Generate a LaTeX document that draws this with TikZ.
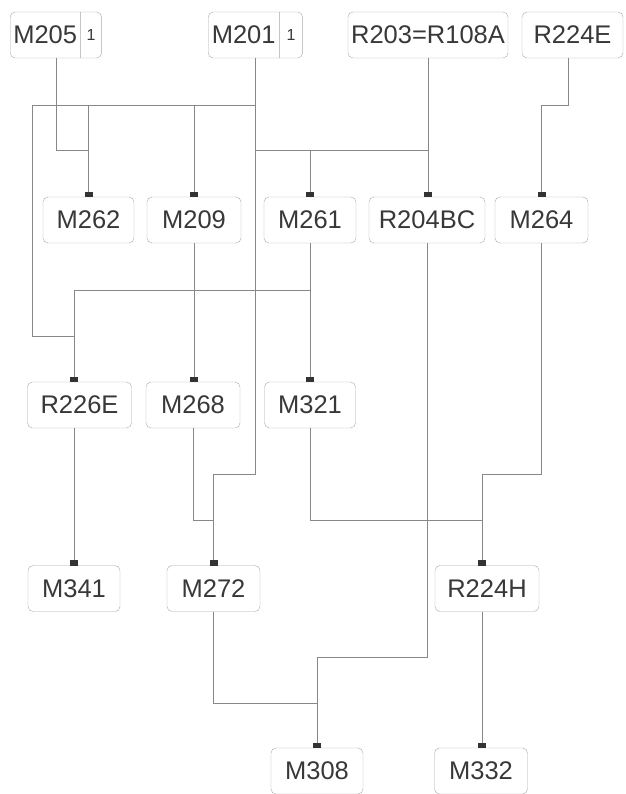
\documentclass[tikz,border=0pt]{standalone}
\usepackage{fontspec}
\setmainfont{Liberation Sans}
\usetikzlibrary{arrows.meta,shapes.multipart}
\definecolor{boxgray}{HTML}{A8A8A8}
\definecolor{linegray}{HTML}{888888}
\definecolor{textgray}{HTML}{383838}
\definecolor{markgray}{HTML}{333333}
\tikzset{
  gene/.style={draw=boxgray,rounded corners=5pt,minimum height=46pt,inner sep=0pt,
    text=textgray,font=\fontsize{25.5}{26}\selectfont},
  splitgene/.style={gene,rectangle split,rectangle split horizontal,
    rectangle split parts=2,inner xsep=0pt},
  link/.style={draw=linegray,line width=0.7pt,
    -{Square[length=5pt,width=8pt,color=markgray]}},
}
\newcommand{\smallone}{\fontsize{16}{16}\selectfont 1}
\begin{document}
\begin{tikzpicture}[x=1pt,y=-1pt]
\useasboundingbox (0,0) rectangle (625,794);

\node[splitgene,anchor=west] (M205) at (10,35) {\makebox[70pt]{M205}\nodepart{two}\makebox[21pt]{\smallone}};
\node[splitgene,anchor=west] (M201) at (208,35) {\makebox[71pt]{M201}\nodepart{two}\makebox[23pt]{\smallone}};
\node[gene,minimum width=160pt] (R203) at (428,35) {R203=R108A};
\node[gene,minimum width=101pt] (R224E) at (572.5,35) {R224E};

\node[gene,minimum width=91pt] (M262) at (88.5,220) {M262};
\node[gene,minimum width=94pt] (M209) at (194,220) {M209};
\node[gene,minimum width=92pt] (M261) at (310,220) {M261};
\node[gene,minimum width=116pt] (R204BC) at (427,220) {R204BC};
\node[gene,minimum width=93pt] (M264) at (541.5,220) {M264};

\node[gene,minimum width=104pt] (R226E) at (79.5,405) {R226E};
\node[gene,minimum width=94pt] (M268) at (193,405) {M268};
\node[gene,minimum width=91pt] (M321) at (310,405) {M321};

\node[gene,minimum width=92pt] (M341) at (74,588.5) {M341};
\node[gene,minimum width=93pt] (M272) at (213.5,588.5) {M272};
\node[gene,minimum width=104pt] (R224H) at (487,588.5) {R224H};

\node[gene,minimum width=92pt] (M308) at (317,771) {M308};
\node[gene,minimum width=93pt] (M332) at (481,771) {M332};

\coordinate (top1) at (0,105);
\coordinate (top2) at (0,150);
\coordinate (mid1) at (0,290);
\coordinate (mid2) at (0,336);
\coordinate (low1) at (0,474);
\coordinate (low2) at (0,520);
\coordinate (bot1) at (0,657);
\coordinate (bot2) at (0,703);
\coordinate (left) at (32,0);
\coordinate (R224Eout) at ([xshift=-4.5pt]R224E.south);
\coordinate (R226Ein) at ([xshift=-5.5pt]R226E.north);
\coordinate (R226Eout) at ([xshift=-5.5pt]R226E.south);
\coordinate (R224Hin) at ([xshift=-5pt]R224H.north);
\coordinate (R224Hout) at ([xshift=-5pt]R224H.south);

\draw[link] (M205.south) -- (M205.south |- top2) -| (M262.north);
\draw[link] (M201.south) -- (M201.south |- top1) -| (M262.north);
\draw[link] (M201.south) -- (M201.south |- top1) -| (M209.north);
\draw[link] (M201.south) -- (M201.south |- top1) -- (top1 -| left) -- (mid2 -| left) -| (R226Ein);
\draw[link] (M201.south) -- (M201.south |- top2) -| (M261.north);
\draw[link] (M201.south) -- (M201.south |- low1) -| (M272.north);
\draw[link] (R203.south) -- (R203.south |- top2) -| (M261.north);
\draw[link] (R203.south) -- (R203.south |- R204BC.north);
\draw[link] (R224Eout) -- (R224Eout |- top1) -| (M264.north);

\draw[link] (M209.south) -- (M209.south |- M268.north);
\draw[link] (M261.south) -- (M261.south |- mid1) -| (R226Ein);
\draw[link] (M261.south) -- (M321.north);
\draw[link] (R204BC.south) -- (R204BC.south |- bot1) -| (M308.north);
\draw[link] (M264.south) -- (M264.south |- low1) -| (R224Hin);

\draw[link] (R226Eout) -- (R226Eout |- M341.north);
\draw[link] (M268.south) -- (M268.south |- low2) -| (M272.north);
\draw[link] (M321.south) -- (M321.south |- low2) -| (R224Hin);

\draw[link] (M272.south) -- (M272.south |- bot2) -| (M308.north);
\draw[link] (R224Hout) -- (R224Hout |- M332.north);
\end{tikzpicture}
\end{document}
